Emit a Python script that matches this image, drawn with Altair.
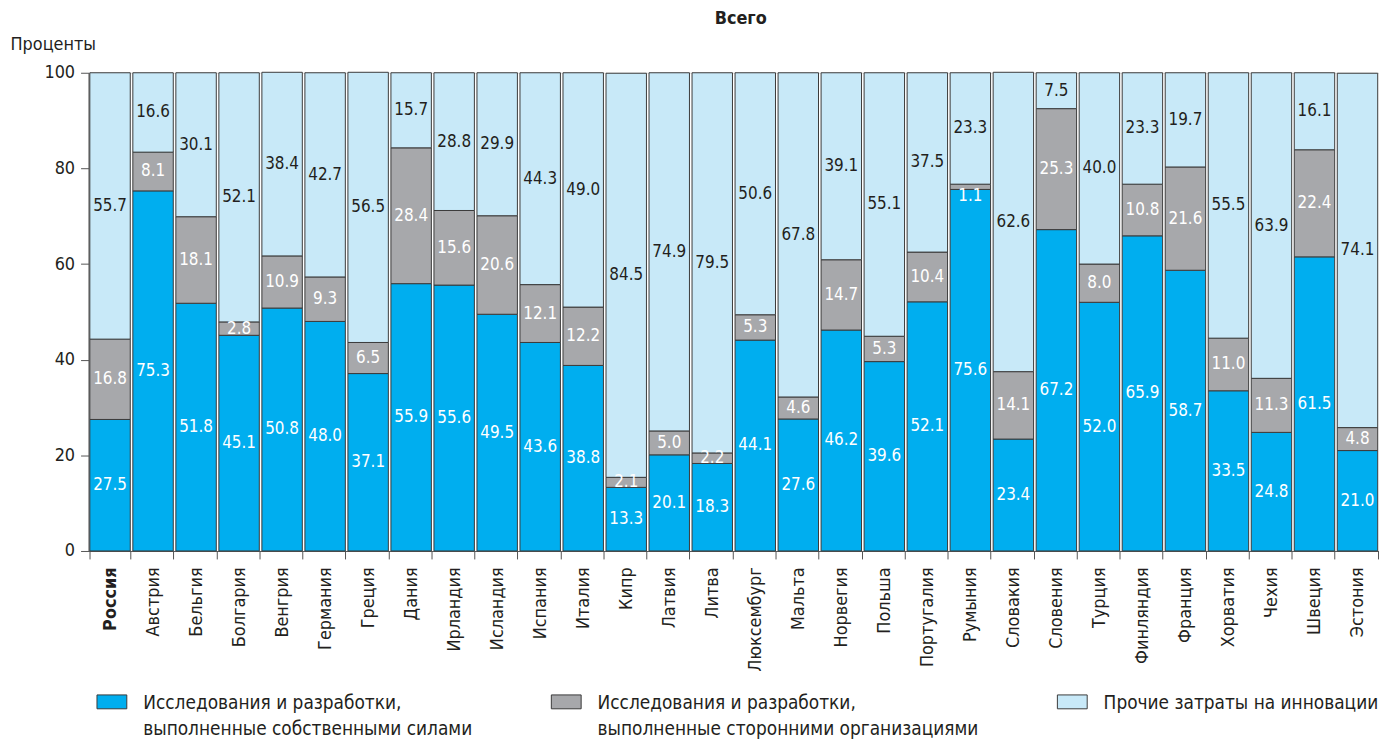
import altair as alt
import pandas as pd

countries = ["Россия", "Австрия", "Бельгия", "Болгария", "Венгрия", "Германия", "Греция",
             "Дания", "Ирландия", "Исландия", "Испания", "Италия", "Кипр", "Латвия", "Литва",
             "Люксембург", "Мальта", "Норвегия", "Польша", "Португалия", "Румыния", "Словакия",
             "Словения", "Турция", "Финляндия", "Франция", "Хорватия", "Чехия", "Швеция", "Эстония"]

own_rd = [27.5, 75.3, 51.8, 45.1, 50.8, 48.0, 37.1, 55.9, 55.6, 49.5, 43.6, 38.8, 13.3, 20.1, 18.3,
          44.1, 27.6, 46.2, 39.6, 52.1, 75.6, 23.4, 67.2, 52.0, 65.9, 58.7, 33.5, 24.8, 61.5, 21.0]
ext_rd = [16.8, 8.1, 18.1, 2.8, 10.9, 9.3, 6.5, 28.4, 15.6, 20.6, 12.1, 12.2, 2.1, 5.0, 2.2,
          5.3, 4.6, 14.7, 5.3, 10.4, 1.1, 14.1, 25.3, 8.0, 10.8, 21.6, 11.0, 11.3, 22.4, 4.8]
other = [55.7, 16.6, 30.1, 52.1, 38.4, 42.7, 56.5, 15.7, 28.8, 29.9, 44.3, 49.0, 84.5, 74.9, 79.5,
         50.6, 67.8, 39.1, 55.1, 37.5, 23.3, 62.6, 7.5, 40.0, 23.3, 19.7, 55.5, 63.9, 16.1, 74.1]

series = ["Исследования и разработки, выполненные собственными силами",
          "Исследования и разработки, выполненные сторонними организациями",
          "Прочие затраты на инновации"]
colors = ["#00AEEF", "#A7A8AB", "#C8E9F8"]

rows = []
for i, c in enumerate(countries):
    base = 0.0
    for k, vals in enumerate([own_rd, ext_rd, other]):
        v = vals[i]
        # very thin segments get their label just below the segment
        mid = base + v / 2 if v >= 2 else base - 1.4
        rows.append({"country": c, "series": series[k], "order": k, "value": v,
                     "y0": base, "y1": base + v, "mid": mid,
                     "label": f"{v:.1f}", "light": k == 2})
        base += v
df = pd.DataFrame(rows)

NARROW = "Liberation Sans Narrow, DejaVu Sans Condensed, sans-serif"
COND = "DejaVu Sans Condensed, Liberation Sans Narrow, sans-serif"

x = alt.X("country:N", sort=countries,
          scale=alt.Scale(paddingInner=0.06, paddingOuter=0.03),
          axis=alt.Axis(title=None, labelAngle=-90, labelAlign="right", labelBaseline="middle",
                        labelFont=COND, labelFontSize=18, labelColor="#231f20",
                        labelFontWeight={"condition": {"test": "datum.value === 'Россия'", "value": "bold"},
                                         "value": "normal"},
                        tickBand="extent", tickSize=8, tickColor="#555", domainColor="#555",
                        labelPadding=8, labelLimit=200))

legend_expr = ("datum.label == 'Прочие затраты на инновации' ? [datum.label, ' '] : "
               "split(replace(datum.label, ', ', ',|'), '|')")

bars = alt.Chart(df).mark_bar(stroke="#3a3a3a", strokeWidth=1).encode(
    x=x,
    y=alt.Y("y0:Q", scale=alt.Scale(domain=[0, 100], nice=False),
            axis=alt.Axis(title="Проценты", titleAngle=0, titleAlign="left", titleBaseline="middle",
                          titleX=-79, titleY=-28, titleFont=NARROW, titleFontSize=18,
                          titleFontWeight="normal", titleColor="#231f20",
                          values=[0, 20, 40, 60, 80, 100], labelFont=NARROW, labelFontSize=18,
                          labelColor="#231f20", tickSize=8, tickColor="#555", domainColor="#555",
                          labelPadding=6, grid=False)),
    y2="y1:Q",
    color=alt.Color("series:N", scale=alt.Scale(domain=series, range=colors),
                    legend=alt.Legend(title=None, orient="none", legendX=8, legendY=624,
                                      direction="horizontal", columns=3, columnPadding=76,
                                      symbolType="M-1,-0.93H1V0H-1Z", symbolSize=900,
                                      symbolStrokeColor="#3a3a3a", symbolStrokeWidth=1,
                                      labelFont=COND, labelFontSize=19, labelColor="#231f20",
                                      labelLimit=600, labelOffset=16, labelBaseline="alphabetic",
                                      labelExpr=legend_expr, padding=0)),
    order=alt.Order("order:Q"),
)

labels = alt.Chart(df).mark_text(font=NARROW, fontSize=17, baseline="middle", align="center").encode(
    x=alt.X("country:N", sort=countries),
    y=alt.Y("mid:Q"),
    text="label:N",
    color=alt.condition("datum.light", alt.value("#231f20"), alt.value("white")),
)

chart = (bars + labels).properties(
    width=1298, height=481,
    title=alt.TitleParams("Всего", font=COND, fontSize=18, fontWeight="bold", color="#231f20",
                          anchor="middle", dx=7, offset=8),
    autosize=alt.AutoSizeParams(type="none"),
    padding={"left": 81, "top": 63, "right": 0, "bottom": 190},
).configure_view(stroke=None).configure(style={"guide-label": {"lineHeight": 26}})

chart.save("out.html", embed_options={"renderer": "svg", "actions": False})
